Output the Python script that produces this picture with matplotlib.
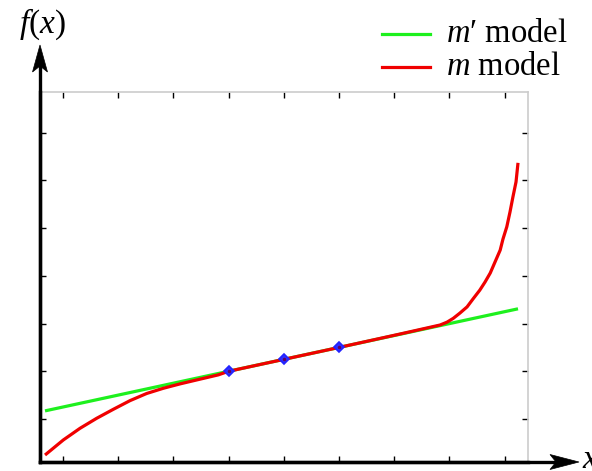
import matplotlib
matplotlib.use("Agg")
import matplotlib.pyplot as plt
from matplotlib.patches import Polygon
from matplotlib.lines import Line2D

# ---- data ----
green_x = [0.674, 9.243]
green_y = [1.17, 3.31]
red_x = [0.674, 1.005, 1.308, 1.61, 1.911, 2.214, 2.516, 2.817, 3.12, 3.482, 3.813,
         4.0, 5.0, 6.0, 7.1, 7.83, 7.957, 8.07, 8.19, 8.32, 8.43, 8.55, 8.645,
         8.74, 8.826, 8.92, 8.97, 9.04, 9.098, 9.15, 9.207, 9.243]
red_y = [0.245, 0.56, 0.805, 1.015, 1.203, 1.385, 1.535, 1.644, 1.736, 1.835, 1.925,
         2.0, 2.25, 2.5, 2.78, 2.97, 3.03, 3.11, 3.22, 3.35, 3.52, 3.70, 3.87,
         4.06, 4.29, 4.54, 4.77, 5.03, 5.34, 5.65, 5.97, 6.37]
pts_x = [4, 5, 6]
pts_y = [2.0, 2.25, 2.5]
xticks = [1, 2, 3, 4, 5, 6, 7, 8, 9]
yticks = [1, 2, 3, 4, 5, 6, 7]
labels = ["$m$\u2032 model", "$m$ model"]

W, H = 592, 471
fig = plt.figure(figsize=(W / 100, H / 100), dpi=100)
plt.rcParams['mathtext.fontset'] = 'custom'
plt.rcParams['mathtext.it'] = 'Liberation Serif:italic'
plt.rcParams['mathtext.rm'] = 'Liberation Serif'

def fx(px):
    return px / W

def fy(py):
    return (H - py) / H

ax = fig.add_axes([fx(40), fy(462), (528 - 40) / W, (462 - 92) / H])
ax.set_xlim(0.583, 9.424)
ax.set_ylim(0.0985, 7.855)

ax.plot(green_x, green_y, color='#1ef01e', lw=2.3, solid_capstyle='butt', zorder=2)
ax.plot(red_x, red_y, color='#f00000', lw=2.3, solid_capstyle='butt',
        solid_joinstyle='round', zorder=3)
ax.plot(pts_x, pts_y, linestyle='none', marker='D', markersize=5,
        markerfacecolor='#3030ff', markeredgecolor='#2222ff', markeredgewidth=1.2, zorder=4)
ax.plot(pts_x, pts_y, linestyle='none', marker='o', markersize=1.5,
        color='#600060', zorder=5)

ax.set_xticks(xticks)
ax.set_yticks(yticks)
ax.set_xticklabels([])
ax.set_yticklabels([])
ax.tick_params(which='both', direction='in', length=4, width=1.0,
               top=True, right=True, bottom=True, left=True, color='black')
for t in ax.xaxis.get_major_ticks():
    t.tick2line.set_color('#c8c8c8')
for t in ax.yaxis.get_major_ticks():
    t.tick2line.set_color('#c8c8c8')

for s in ['top', 'right']:
    ax.spines[s].set_color('#cccccc')
    ax.spines[s].set_linewidth(1.2)
for s in ['left', 'bottom']:
    ax.spines[s].set_color('black')
    ax.spines[s].set_linewidth(2.4)
    ax.spines[s].set_zorder(6)

# axis extension lines and arrowheads (figure coords)
fig.add_artist(Line2D([fx(40), fx(40)], [fy(462), fy(66)], color='black', lw=2.4))
fig.add_artist(Line2D([fx(40), fx(556)], [fy(462), fy(462)], color='black', lw=2.4))
fig.add_artist(Polygon([[fx(40), fy(45)], [fx(32.5), fy(72)], [fx(40), fy(66)], [fx(47.5), fy(72)]],
                       closed=True, facecolor='black', edgecolor='black', lw=0.5))
fig.add_artist(Polygon([[fx(579), fy(462)], [fx(550), fy(454.5)], [fx(556), fy(462)], [fx(550), fy(469.5)]],
                       closed=True, facecolor='black', edgecolor='black', lw=0.5))

serif = ['Liberation Serif', 'DejaVu Serif']
fig.text(fx(42), fy(24), "$f$($x$)", fontsize=24, family=serif, ha='center', va='center')
fig.text(fx(582), fy(460), "$x$", fontsize=24, family=serif, ha='left', va='center')

# legend
fig.add_artist(Line2D([fx(382), fx(430)], [fy(34), fy(34)], color='#1ef01e', lw=2.3))
fig.add_artist(Line2D([fx(382), fx(430)], [fy(67), fy(67)], color='#f00000', lw=2.3))
fig.text(fx(446), fy(34), labels[0], fontsize=23.5, family=serif, ha='left', va='center')
fig.text(fx(446), fy(67), labels[1], fontsize=23.5, family=serif, ha='left', va='center')

fig.savefig("out.png", dpi=100)
